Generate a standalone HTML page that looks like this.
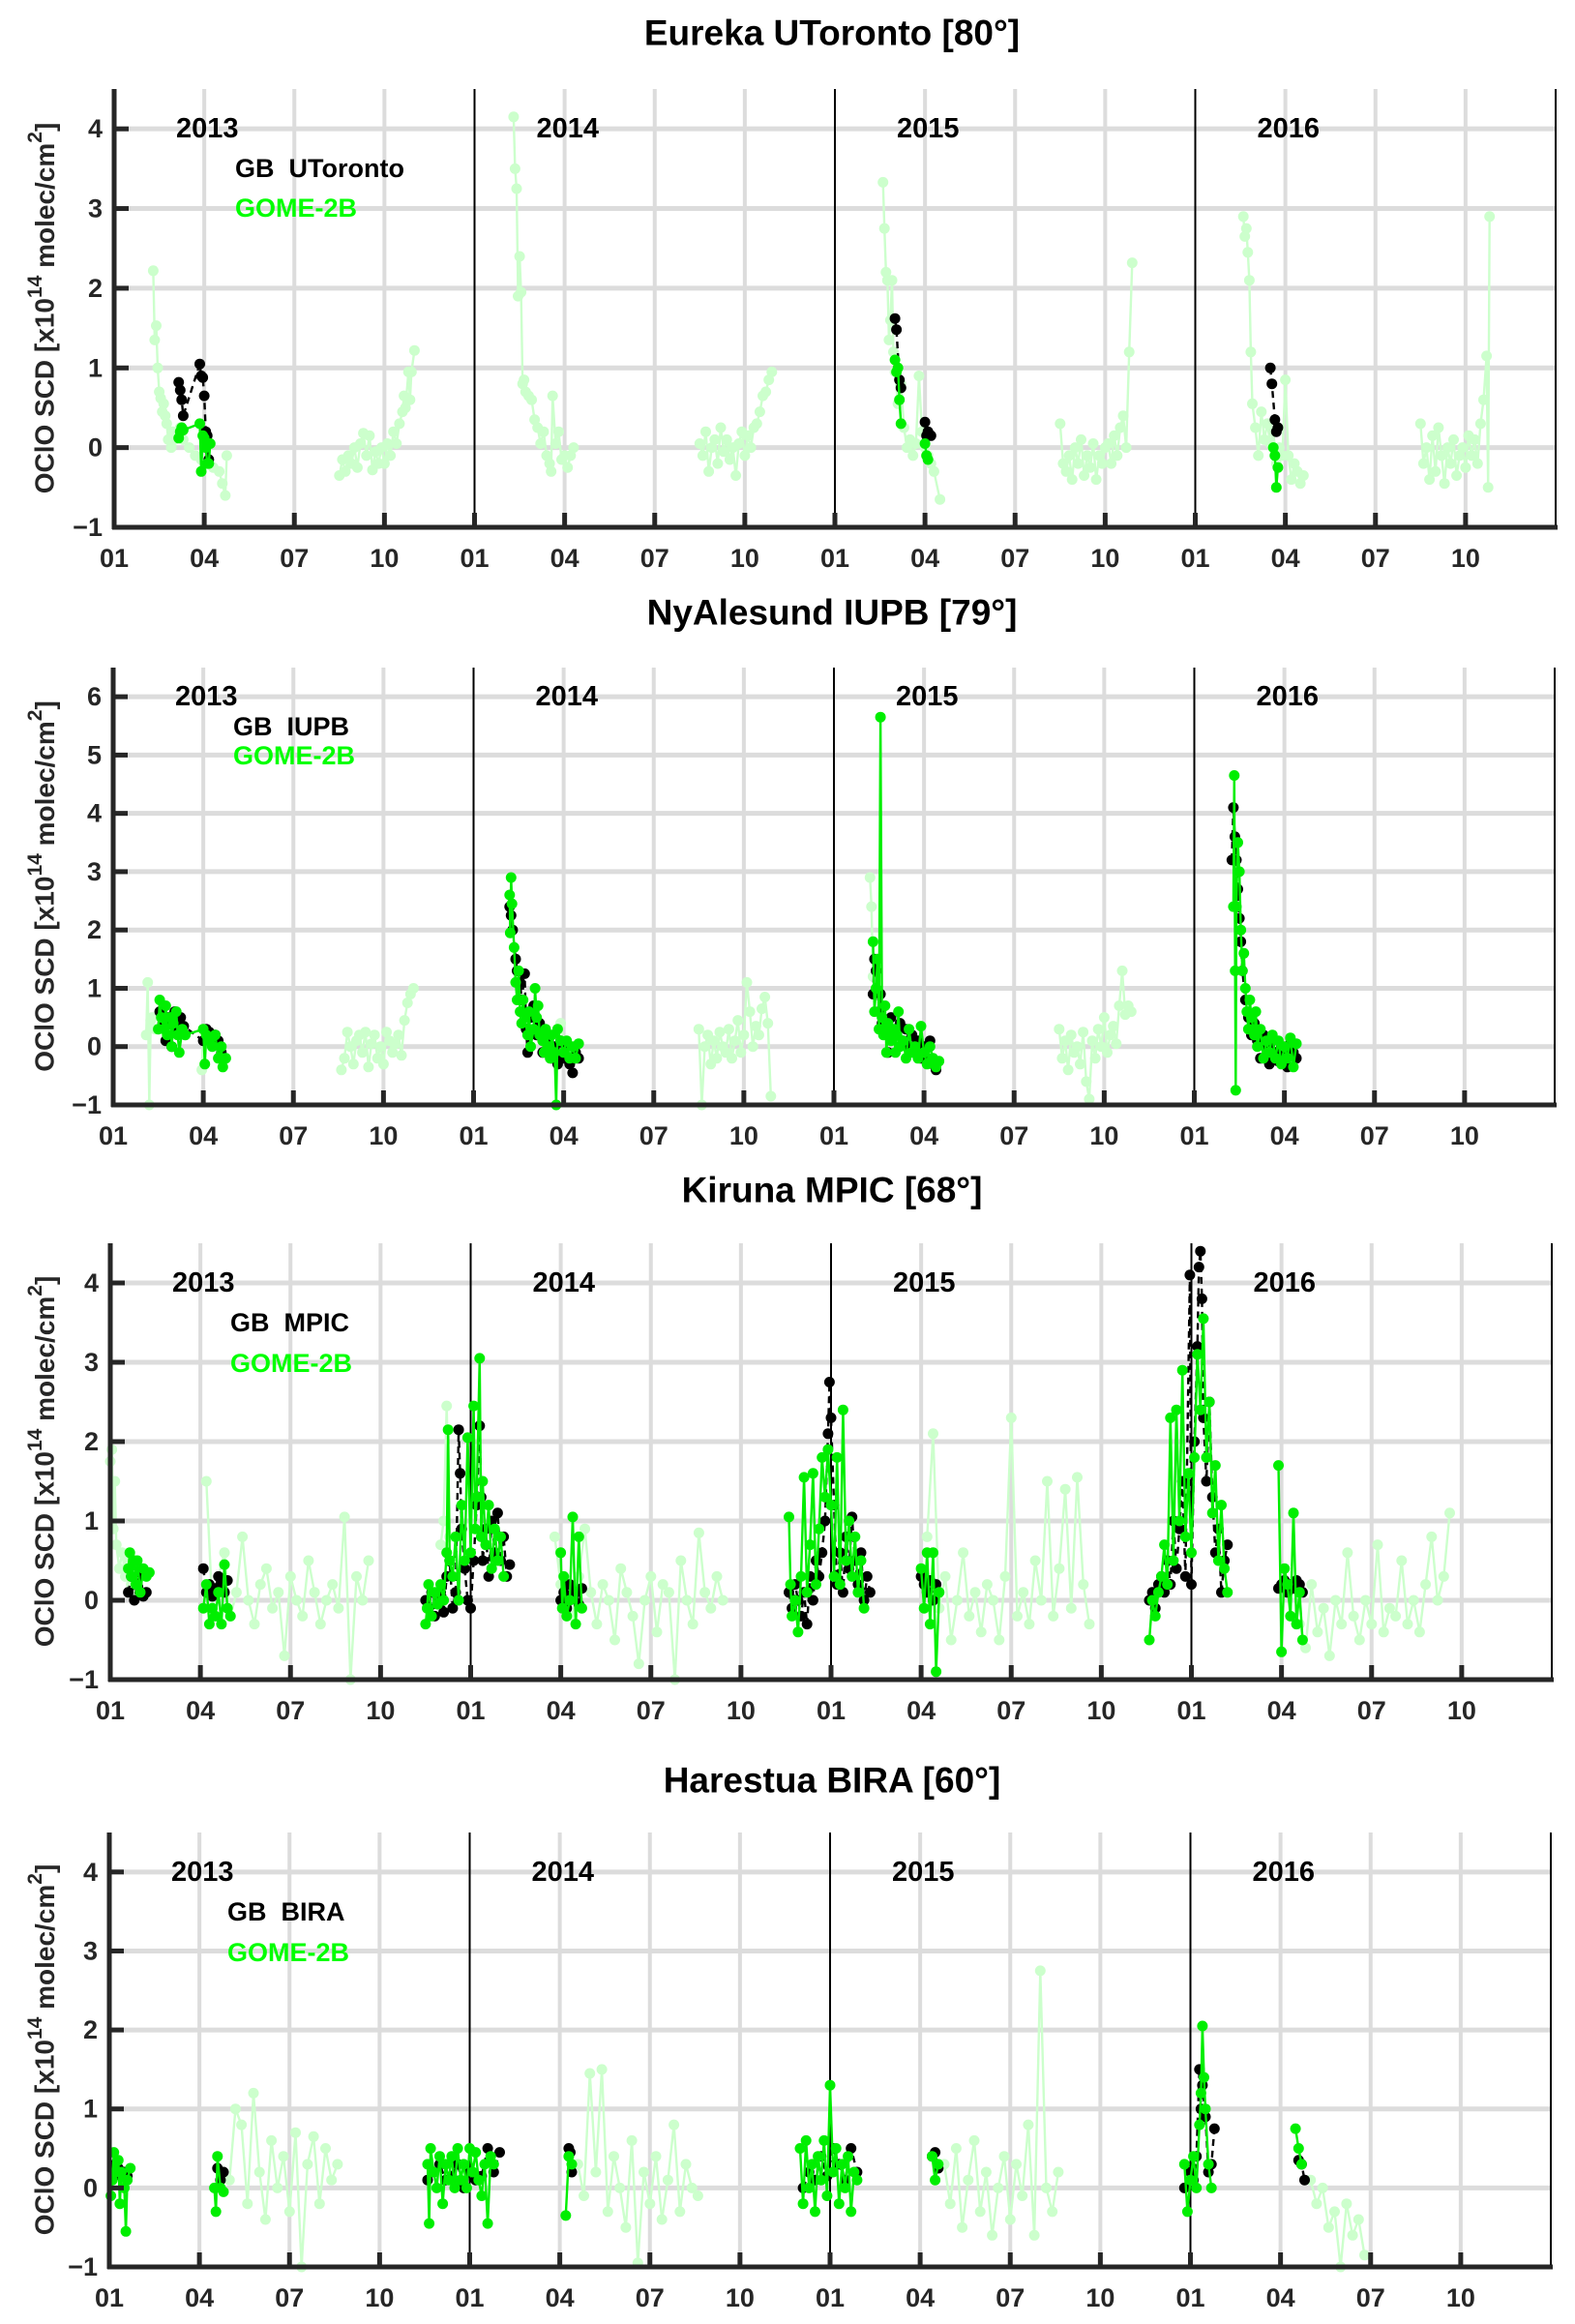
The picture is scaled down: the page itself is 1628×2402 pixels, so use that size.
<!DOCTYPE html>
<html><head><meta charset="utf-8">
<style>
html,body{margin:0;padding:0;background:#fff;}
svg{display:block;font-family:"Liberation Sans",sans-serif;}
</style></head>
<body>
<svg id="fig" width="1628" height="2402" viewBox="0 0 1628 2402" xmlns="http://www.w3.org/2000/svg"></svg>
<script>
// ---------- DATA (months since 2013-01; values in 1e14 molec/cm2) ----------
const monthTickLabels = ["01","04","07","10"];
const yearLabels = ["2013","2014","2015","2016"];
const ticksA = [-1,0,1,2,3,4];
const ticksB = [-1,0,1,2,3,4,5,6];

// Eureka
const euPaleX = [1.3,1.35,1.4,1.45,1.5,1.55,1.6,1.65,1.7,1.75,1.8,1.9,1.95,2.0,2.1,2.2,2.3,2.5,2.7,2.9,3.1,3.3,3.5,3.6,3.7,3.75,
7.5,7.6,7.7,7.8,7.9,8.0,8.1,8.2,8.3,8.4,8.5,8.6,8.7,8.8,8.9,9.0,9.1,9.2,9.3,9.4,9.5,9.6,9.65,9.7,9.8,9.85,9.9,10.0,
13.3,13.35,13.4,13.45,13.5,13.55,13.6,13.65,13.7,13.8,13.9,14.0,14.1,14.2,14.3,14.4,14.5,14.55,14.6,14.7,14.8,14.9,15.0,15.1,15.2,15.3,
19.5,19.6,19.7,19.8,19.9,20.0,20.1,20.2,20.3,20.4,20.5,20.6,20.7,20.8,20.9,21.0,21.1,21.2,21.3,21.4,21.5,21.6,21.7,21.8,21.9,
25.6,25.65,25.7,25.75,25.8,25.85,25.9,25.95,26.0,26.1,26.2,26.3,26.4,26.5,26.6,26.7,26.8,26.9,27.0,27.1,27.2,27.3,27.5,
31.5,31.6,31.7,31.8,31.9,32.0,32.1,32.2,32.3,32.4,32.5,32.6,32.7,32.8,32.9,33.0,33.1,33.2,33.3,33.4,33.5,33.6,33.7,33.8,33.9,
37.6,37.65,37.7,37.75,37.8,37.85,37.9,38.0,38.1,38.2,38.3,38.4,38.5,38.6,38.7,38.8,38.9,39.0,39.1,39.2,39.3,39.4,39.5,39.6,
43.5,43.6,43.7,43.8,43.9,44.0,44.1,44.2,44.3,44.4,44.5,44.6,44.7,44.8,44.9,45.0,45.1,45.2,45.3,45.4,45.5,45.6,45.7,45.75,45.8];
const euPaleY = [2.22,1.35,1.53,1.0,0.7,0.62,0.45,0.55,0.4,0.3,0.1,0.0,0.2,0.1,0.15,0.25,0.1,0.0,-0.1,-0.15,-0.2,-0.25,-0.3,-0.45,-0.6,-0.1,
-0.35,-0.15,-0.3,-0.1,-0.2,0.0,-0.25,0.05,0.18,-0.1,0.15,-0.28,-0.05,-0.2,0.0,-0.2,0.05,-0.1,0.2,0.05,0.3,0.45,0.65,0.5,0.95,0.6,0.95,1.22,
4.15,3.5,3.25,1.9,2.4,1.95,0.8,0.85,0.7,0.65,0.6,0.35,0.25,0.05,0.2,-0.1,-0.2,-0.3,0.65,0.05,0.2,-0.15,-0.1,-0.25,-0.1,0.0,
0.05,-0.1,0.2,-0.3,0.0,0.1,-0.2,0.25,-0.05,0.1,-0.15,0.0,-0.35,0.05,0.2,-0.1,0.15,0.0,0.25,0.3,0.45,0.65,0.7,0.85,0.95,
3.33,2.75,2.2,2.1,1.35,1.6,2.1,1.2,0.95,0.55,0.8,0.25,0.0,0.1,-0.1,0.05,0.9,0.2,0.0,-0.1,-0.2,-0.3,-0.65,
0.3,-0.2,-0.3,-0.1,-0.4,0.0,-0.2,0.1,-0.35,-0.1,-0.25,0.05,-0.4,-0.1,-0.2,0.0,0.05,-0.2,0.15,-0.1,0.25,0.4,0.0,1.2,2.32,
2.9,2.65,2.75,2.45,2.1,1.2,0.55,0.25,-0.1,0.45,0.1,0.3,0.05,0.2,-0.2,0.0,-0.1,0.85,-0.1,-0.4,-0.2,-0.3,-0.45,-0.35,
0.3,-0.2,0.0,-0.4,0.15,-0.3,0.25,-0.1,-0.45,0.0,-0.2,0.1,-0.35,-0.1,0.0,-0.25,0.15,-0.1,0.1,-0.2,0.3,0.6,1.15,-0.5,2.9];
const euGbX = [2.15,2.2,2.25,2.3,2.85,2.9,2.95,3.0,3.05,3.1,3.15,26.0,26.05,26.15,26.2,27.0,27.05,27.1,27.2,38.5,38.55,38.65,38.7,38.75];
const euGbY = [0.82,0.72,0.6,0.4,1.05,0.9,0.88,0.65,0.2,0.15,-0.15,1.62,1.48,0.85,0.75,0.32,0.15,0.2,0.15,1.0,0.8,0.35,0.2,0.25];
const euGoX = [2.15,2.2,2.25,2.3,2.85,2.9,2.95,3.0,3.05,3.1,3.15,3.2,26.0,26.05,26.1,26.15,26.2,27.0,27.05,27.1,38.6,38.65,38.7,38.75];
const euGoY = [0.12,0.2,0.25,0.22,0.3,-0.3,0.15,0.12,0.0,-0.2,-0.2,0.05,1.1,0.95,1.0,0.6,0.3,0.05,-0.1,-0.15,0.0,-0.1,-0.5,-0.25];

// NyAlesund
const nyPaleX = [1.1,1.15,1.2,1.25,1.3,1.4,2.95,3.0,
7.6,7.7,7.8,7.9,8.0,8.1,8.2,8.3,8.4,8.5,8.6,8.7,8.8,8.9,9.0,9.1,9.2,9.3,9.4,9.5,9.6,9.7,9.8,9.9,10.0,
13.4,13.5,14.9,15.0,
19.5,19.6,19.7,19.8,19.9,20.0,20.1,20.2,20.3,20.4,20.5,20.6,20.7,20.8,20.9,21.0,21.1,21.2,21.3,21.4,21.5,21.6,21.7,21.8,21.9,
25.2,25.25,25.3,
31.5,31.6,31.7,31.8,31.9,32.0,32.1,32.2,32.3,32.4,32.5,32.6,32.7,32.8,32.9,33.0,33.1,33.2,33.3,33.4,33.5,33.6,33.7,33.8,33.9];
const nyPaleY = [0.2,1.1,-1.0,0.45,0.5,0.3,-0.4,0.3,
-0.4,-0.2,0.25,0.0,-0.3,0.1,0.2,-0.1,0.25,-0.35,0.05,0.2,-0.2,0.0,-0.3,0.25,0.1,-0.1,0.05,0.2,-0.15,0.45,0.75,0.9,1.0,
1.5,1.2,0.4,0.1,
0.3,-1.0,0.0,0.2,-0.3,0.1,-0.2,0.25,0.0,-0.1,0.3,-0.2,0.1,0.45,-0.1,0.2,1.1,0.6,0.0,0.35,0.2,0.65,0.85,0.4,-0.85,
2.9,2.4,1.2,
0.3,-0.2,0.1,-0.4,0.2,-0.1,0.0,-0.3,0.25,-0.6,-0.9,0.1,-0.2,0.3,0.0,0.5,-0.1,0.2,0.35,0.05,0.7,1.3,0.55,0.7,0.6];
const nyGbX = [1.55,1.65,1.75,1.85,1.95,2.05,2.15,2.25,2.35,3.0,3.1,3.2,3.3,3.4,3.5,3.6,3.7,
13.2,13.25,13.3,13.4,13.45,13.55,13.6,13.7,13.75,13.8,13.9,14.0,14.1,14.2,14.3,14.4,14.5,14.6,14.7,14.8,14.9,15.0,15.1,15.2,15.3,15.4,15.5,
25.3,25.35,25.4,25.5,25.55,25.6,25.7,25.8,25.9,26.0,26.1,26.2,26.3,26.4,26.5,26.6,26.7,26.8,26.9,27.0,27.1,27.2,27.3,27.4,
37.25,37.3,37.35,37.4,37.45,37.5,37.55,37.6,37.7,37.8,37.9,38.0,38.1,38.2,38.3,38.4,38.5,38.6,38.7,38.8,38.9,39.0,39.1,39.2,39.3,39.4];
const nyGbY = [0.6,0.4,0.1,0.5,0.0,0.6,0.3,0.5,0.35,0.1,0.3,0.25,0.15,0.2,0.1,-0.1,-0.2,
2.4,2.25,2.0,1.5,1.3,1.1,0.8,1.25,0.3,-0.1,0.5,0.7,0.2,0.4,-0.1,0.2,0.1,-0.2,0.0,-0.3,0.1,-0.2,0.0,-0.3,-0.45,-0.1,-0.2,
0.9,1.5,1.3,0.6,0.9,0.4,0.3,-0.1,0.5,0.2,0.3,0.4,0.1,0.3,0.0,0.2,-0.1,0.1,-0.2,0.0,-0.2,0.1,-0.3,-0.4,
3.2,4.1,3.6,3.2,2.7,2.2,1.8,1.3,0.8,0.5,0.2,0.4,0.1,-0.2,0.2,0.0,-0.3,0.1,-0.1,-0.25,0.0,-0.15,-0.35,0.05,-0.1,-0.2];
const nyGoX = [1.5,1.55,1.6,1.7,1.75,1.8,1.9,1.95,2.0,2.1,2.15,2.2,2.3,2.4,3.0,3.05,3.1,3.2,3.3,3.4,3.5,3.6,3.65,3.75,
13.2,13.22,13.25,13.28,13.35,13.4,13.45,13.5,13.55,13.6,13.65,13.7,13.8,13.85,13.9,14.0,14.05,14.1,14.15,14.2,14.3,14.35,14.4,14.5,14.55,14.6,14.7,14.75,14.8,14.9,15.0,15.1,15.2,15.3,15.4,15.5,
25.3,25.35,25.4,25.45,25.5,25.55,25.6,25.65,25.7,25.75,25.8,25.85,25.9,26.0,26.05,26.1,26.15,26.2,26.3,26.4,26.5,26.6,26.7,26.8,26.9,27.0,27.1,27.2,27.3,27.4,27.5,
37.3,37.33,37.36,37.38,37.4,37.45,37.5,37.55,37.6,37.65,37.7,37.75,37.8,37.85,37.9,38.0,38.05,38.1,38.2,38.3,38.4,38.5,38.6,38.7,38.8,38.9,39.0,39.1,39.2,39.3,39.4];
const nyGoY = [0.3,0.8,0.5,0.3,0.7,0.2,0.5,0.0,0.4,0.6,0.2,-0.1,0.3,0.2,0.3,-0.3,0.2,0.1,0.0,0.2,-0.2,0.0,-0.35,-0.2,
2.6,1.95,2.9,2.45,1.7,1.1,0.8,1.3,0.6,0.4,0.8,0.5,0.2,0.6,0.0,0.3,1.0,0.5,0.7,0.2,0.1,-0.1,0.3,0.0,-0.2,0.2,-0.1,-1.0,0.3,0.1,-0.1,0.1,-0.2,0.0,-0.2,0.05,
1.8,0.6,1.0,1.5,0.3,5.65,0.5,0.2,0.7,-0.1,0.4,0.2,0.1,0.3,-0.1,0.2,0.6,0.0,0.1,-0.2,0.3,-0.1,0.0,-0.2,0.35,-0.1,-0.3,0.0,-0.2,-0.35,-0.25,
2.4,4.65,1.3,-0.75,2.4,3.5,3.0,2.0,1.3,1.6,1.0,0.6,0.3,0.8,0.5,0.2,0.6,0.0,0.3,-0.2,0.1,-0.1,0.2,-0.2,0.1,-0.3,0.0,-0.2,0.15,-0.35,0.05];

// Kiruna
const kiPaleX = [0.0,0.05,0.1,0.15,0.2,0.3,0.4,0.5,0.6,0.7,0.8,0.9,1.0,
3.2,3.4,3.6,3.8,4.0,4.2,4.4,4.6,4.8,5.0,5.2,5.4,5.6,5.8,6.0,6.2,6.4,6.6,6.8,7.0,7.2,7.4,7.6,7.8,8.0,8.2,8.4,8.6,
11.0,11.1,11.2,11.3,
14.8,15.0,15.2,15.4,15.6,15.8,16.0,16.2,16.4,16.6,16.8,17.0,17.2,17.4,17.6,17.8,18.0,18.2,18.4,18.6,18.8,19.0,19.2,19.4,19.6,19.8,20.0,20.2,20.4,
27.2,27.4,27.6,27.8,28.0,28.2,28.4,28.6,28.8,29.0,29.2,29.4,29.6,29.8,30.0,30.2,30.4,30.6,30.8,31.0,31.2,31.4,31.6,31.8,32.0,32.2,32.4,32.6,
39.6,39.8,40.0,40.2,40.4,40.6,40.8,41.0,41.2,41.4,41.6,41.8,42.0,42.2,42.4,42.6,42.8,43.0,43.2,43.4,43.6,43.8,44.0,44.2,44.4,44.6];
const kiPaleY = [1.75,1.9,0.9,1.5,0.7,0.4,0.6,0.3,0.5,0.2,0.35,0.1,0.3,
1.5,-0.1,0.3,0.6,-0.2,0.1,0.8,0.0,-0.3,0.2,0.4,-0.1,0.1,-0.7,0.3,0.0,-0.2,0.5,0.1,-0.3,0.0,0.2,-0.1,1.05,-1.0,0.3,0.0,0.5,
0.7,1.0,2.45,0.8,
0.8,0.2,0.0,-0.2,0.3,0.9,0.1,-0.3,0.2,0.0,-0.5,0.4,0.1,-0.2,-0.8,0.0,0.3,-0.4,0.2,0.1,-1.0,0.5,0.0,-0.3,0.85,0.1,-0.1,0.3,0.0,
0.8,2.1,-0.1,0.3,-0.5,0.0,0.6,-0.2,0.1,-0.4,0.2,0.0,-0.5,0.3,2.3,-0.2,0.1,-0.3,0.5,0.0,1.5,-0.2,0.4,1.4,-0.1,1.55,0.2,-0.3,
-0.3,-0.6,0.2,-0.4,-0.1,-0.7,0.0,-0.3,0.6,-0.2,-0.5,0.0,-0.3,0.7,-0.4,-0.1,-0.2,0.5,-0.3,0.0,-0.4,0.2,0.8,0.0,0.3,1.1];
const kiGbX = [0.6,0.7,0.8,0.9,1.0,1.1,1.2,
3.1,3.2,3.3,3.4,3.5,3.6,3.7,3.8,3.9,
10.5,10.6,10.7,10.8,10.9,11.0,11.1,11.2,11.3,11.4,11.5,11.6,11.65,11.7,11.8,11.9,12.0,12.1,12.2,12.3,12.35,12.4,12.5,12.6,12.7,12.8,12.9,13.0,13.1,13.2,13.3,
15.0,15.1,15.2,15.3,15.4,15.5,15.6,15.7,
22.6,22.7,22.8,22.9,23.0,23.1,23.2,23.3,23.4,23.5,23.6,23.7,23.8,23.9,23.95,24.0,24.1,24.2,24.3,24.4,24.5,24.6,24.7,24.8,24.9,25.0,25.1,25.2,25.3,
27.0,27.1,27.2,27.3,27.4,27.5,
34.6,34.7,34.8,34.9,35.0,35.1,35.2,35.3,35.4,35.5,35.6,35.7,35.8,35.95,36.0,36.1,36.2,36.25,36.3,36.35,36.4,36.5,36.6,36.7,36.8,36.9,37.0,37.1,37.2,
38.9,39.0,39.1,39.2,39.3,39.4,39.5,39.6,39.7];
const kiGbY = [0.1,0.3,0.0,0.2,0.35,0.05,0.1,
0.4,0.1,0.2,0.05,0.15,0.3,0.2,0.1,0.25,
0.0,-0.1,0.1,-0.2,0.0,0.1,-0.15,0.3,0.5,-0.1,0.1,2.15,1.6,0.9,0.4,0.0,-0.1,0.5,1.2,2.2,1.3,0.5,0.9,0.3,1.0,0.6,1.1,0.5,0.8,0.3,0.45,
0.0,0.1,-0.1,0.2,0.05,0.1,-0.05,0.15,
0.1,-0.1,0.2,0.0,-0.2,0.1,-0.3,0.3,0.0,0.5,0.3,0.6,1.0,2.1,2.75,2.3,1.2,0.2,0.6,0.1,0.8,0.4,1.05,0.5,0.2,0.6,0.0,0.3,0.1,
0.3,0.2,0.1,0.25,0.0,0.2,
0.0,0.1,-0.1,0.2,0.3,0.1,0.5,0.2,1.0,0.4,0.9,1.5,0.3,4.1,0.2,2.0,3.2,4.2,4.4,3.8,2.3,1.5,2.5,1.3,0.6,0.9,0.1,0.5,0.7,
0.15,0.2,0.25,0.1,0.2,0.15,0.25,0.2,0.1];
const kiGoX = [0.6,0.65,0.7,0.8,0.85,0.9,1.0,1.1,1.2,1.3,
3.1,3.2,3.3,3.4,3.5,3.6,3.7,3.8,3.9,4.0,
10.5,10.55,10.6,10.7,10.8,10.9,11.0,11.1,11.2,11.25,11.3,11.4,11.5,11.6,11.7,11.8,11.9,12.0,12.1,12.15,12.2,12.3,12.35,12.4,12.5,12.6,12.7,12.8,12.9,13.0,13.1,
15.0,15.05,15.1,15.2,15.3,15.4,15.5,15.6,15.7,
22.6,22.65,22.7,22.8,22.9,23.0,23.1,23.2,23.3,23.4,23.5,23.6,23.7,23.8,23.9,24.0,24.1,24.2,24.3,24.4,24.5,24.6,24.7,24.8,24.9,25.0,25.1,
27.0,27.1,27.2,27.3,27.4,27.5,27.6,
34.6,34.7,34.8,34.9,35.0,35.1,35.2,35.3,35.4,35.5,35.6,35.7,35.8,35.9,36.0,36.1,36.2,36.3,36.4,36.5,36.6,36.7,36.8,36.9,37.0,37.1,37.2,
38.9,39.0,39.1,39.2,39.3,39.4,39.5,39.6,39.7];
const kiGoY = [0.4,0.6,0.3,0.5,0.2,0.5,0.1,0.4,0.3,0.35,
-0.1,0.2,-0.3,-0.1,-0.2,0.1,-0.3,0.45,-0.1,-0.2,
-0.3,-0.1,0.2,-0.2,0.1,-0.05,0.2,0.0,0.6,2.15,0.5,0.3,0.8,0.0,1.2,0.5,2.05,0.6,2.45,0.9,1.3,3.05,0.8,1.5,0.7,1.2,0.4,0.9,0.5,0.8,0.3,
0.6,-0.1,0.3,-0.2,0.0,1.05,-0.3,0.8,-0.1,
1.05,0.2,-0.2,0.0,-0.4,0.3,1.55,0.1,0.7,1.6,0.2,0.9,1.8,1.3,1.9,1.2,0.3,1.8,0.2,2.4,0.5,1.0,0.3,0.8,0.1,0.5,-0.1,
0.4,-0.1,0.6,-0.3,0.6,-0.9,0.1,
-0.5,0.0,-0.2,0.1,0.3,0.7,0.2,2.3,0.5,2.4,1.0,2.9,0.8,1.6,0.6,1.8,3.1,2.4,3.55,1.8,2.5,1.1,1.7,0.5,1.2,0.4,0.1,
1.7,-0.65,0.4,0.2,-0.2,1.1,-0.3,0.1,-0.5];

// Harestua
const haPaleX = [4.0,4.2,4.4,4.6,4.8,5.0,5.2,5.4,5.6,5.8,6.0,6.2,6.4,6.6,6.8,7.0,7.2,7.4,7.6,
15.6,15.8,16.0,16.2,16.4,16.6,16.8,17.0,17.2,17.4,17.6,17.8,18.0,18.2,18.4,18.6,18.8,19.0,19.2,19.4,19.6,
27.8,28.0,28.2,28.4,28.6,28.8,29.0,29.2,29.4,29.6,29.8,30.0,30.2,30.4,30.6,30.8,31.0,31.2,31.4,31.6,
40.0,40.2,40.4,40.6,40.8,41.0,41.2,41.4,41.6,41.8];
const haPaleY = [0.1,1.0,0.8,-0.2,1.2,0.2,-0.4,0.6,0.0,0.4,-0.3,0.7,-1.0,0.3,0.65,-0.2,0.5,0.1,0.3,
0.3,-0.1,1.45,0.2,1.5,-0.3,0.4,0.0,-0.5,0.6,-0.95,0.2,-0.2,0.4,-0.4,0.1,0.8,-0.3,0.3,0.0,-0.1,
0.3,-0.2,0.5,-0.5,0.1,0.6,-0.3,0.2,-0.6,0.0,0.4,-0.4,0.3,-0.1,0.8,-0.6,2.75,0.0,-0.3,0.2,
0.1,-0.2,0.0,-0.5,-0.3,-1.0,-0.2,-0.6,-0.4,-0.85];
const haGbX = [0.1,0.2,0.3,0.4,0.5,0.6,3.6,3.7,3.8,
10.6,10.8,11.0,11.2,11.4,11.6,11.8,12.0,12.2,12.4,12.6,12.8,13.0,
15.3,15.35,15.4,
23.1,23.3,23.5,23.7,23.9,24.1,24.3,24.5,24.7,24.9,
27.4,27.5,27.6,
35.8,36.0,36.1,36.2,36.3,36.35,36.4,36.5,36.6,36.7,36.8,
39.6,39.7,39.8];
const haGbY = [0.2,0.3,0.25,0.15,0.2,0.15,0.25,0.1,0.2,
0.1,0.2,0.3,0.1,0.15,0.3,0.0,0.2,0.1,0.15,0.5,0.2,0.45,
0.5,0.45,0.2,
0.0,0.2,0.1,0.4,0.15,0.5,0.3,0.1,0.5,0.2,
0.4,0.45,0.25,
0.0,0.2,0.1,0.4,1.5,1.0,1.3,0.9,0.2,0.3,0.75,
0.35,0.3,0.1];
const haGoX = [0.05,0.1,0.15,0.2,0.3,0.35,0.4,0.5,0.55,0.6,0.7,3.5,3.55,3.6,3.7,3.8,
10.6,10.65,10.7,10.8,10.9,11.0,11.1,11.2,11.3,11.4,11.5,11.6,11.7,11.8,11.9,12.0,12.1,12.2,12.3,12.4,12.5,12.6,12.7,12.8,
15.2,15.3,15.4,
23.0,23.1,23.2,23.3,23.4,23.5,23.6,23.7,23.8,23.9,24.0,24.1,24.2,24.3,24.4,24.5,24.6,24.7,24.8,24.9,
27.4,27.5,27.6,
35.8,35.9,36.0,36.1,36.2,36.3,36.35,36.4,36.45,36.5,36.6,36.7,
39.5,39.6,39.7];
const haGoY = [-0.1,0.1,0.45,0.2,0.35,-0.2,0.2,0.0,-0.55,0.1,0.25,0.0,-0.3,0.4,0.0,-0.05,
0.3,-0.45,0.5,0.2,0.0,0.4,-0.2,0.3,0.1,0.4,0.0,0.5,0.1,0.3,0.0,0.5,0.2,0.45,0.1,-0.1,0.3,-0.45,0.4,0.3,
-0.35,0.4,0.3,
0.5,-0.2,0.6,0.0,0.3,-0.3,0.4,0.1,0.6,-0.1,1.3,0.2,0.5,-0.2,0.3,0.0,0.4,-0.3,0.2,0.1,
0.4,0.1,0.3,
0.3,-0.3,0.1,0.4,0.0,0.8,1.2,2.05,1.4,1.0,0.3,0.0,
0.75,0.5,0.3];

// ---------- DRAWING ----------
const NS = "http://www.w3.org/2000/svg";
const svg = document.getElementById('fig');
function mk(tag, attrs, parent){
  const e = document.createElementNS(NS, tag);
  for (const k in attrs) e.setAttribute(k, attrs[k]);
  (parent||svg).appendChild(e);
  return e;
}
const panels = [
 {key:'eureka', title:'Eureka UToronto [80°]', gb:'GB  UToronto', left:118, right:1608, top:92, bottom:545, ymin:-1, ymax:4.5, ticks:ticksA, titleY:34, legX:243, legDy:[41,82],
  pX:euPaleX,pY:euPaleY,bX:euGbX,bY:euGbY,gX:euGoX,gY:euGoY},
 {key:'nyalesund', title:'NyAlesund IUPB [79°]', gb:'GB  IUPB', left:117, right:1607, top:690, bottom:1142, ymin:-1, ymax:6.5, ticks:ticksB, titleY:633, legX:241, legDy:[31,61],
  pX:nyPaleX,pY:nyPaleY,bX:nyGbX,bY:nyGbY,gX:nyGoX,gY:nyGoY},
 {key:'kiruna', title:'Kiruna MPIC [68°]', gb:'GB  MPIC', left:114, right:1604, top:1285, bottom:1736, ymin:-1, ymax:4.5, ticks:ticksA, titleY:1230, legX:238, legDy:[41,83],
  pX:kiPaleX,pY:kiPaleY,bX:kiGbX,bY:kiGbY,gX:kiGoX,gY:kiGoY},
 {key:'harestua', title:'Harestua BIRA [60°]', gb:'GB  BIRA', left:113, right:1603, top:1894, bottom:2343, ymin:-1, ymax:4.5, ticks:ticksA, titleY:1840, legX:235, legDy:[41,83],
  pX:haPaleX,pY:haPaleY,bX:haGbX,bY:haGbY,gX:haGoX,gY:haGoY}
];

panels.forEach(p=>{
  const g = mk('g', {});
  
  
  const xS = m => p.left + m*(p.right-p.left)/48;
  const yS = v => p.bottom - (v-p.ymin)*(p.bottom-p.top)/(p.ymax-p.ymin);

  const t = mk('text', {x:860, y:p.titleY, 'text-anchor':'middle', 'dominant-baseline':'central', 'font-size':37, 'font-weight':'bold', fill:'#000'}, g);
  t.textContent = p.title;
  
  

  const grid = mk('g', {}, g);
  
  
  p.ticks.forEach(v=>{ if (v> p.ymin) mk('line',{x1:p.left,x2:p.right,y1:yS(v),y2:yS(v),stroke:'#dcdcdc','stroke-width':5},grid); });
  for (let q=1;q<16;q++){ if (q%4) mk('line',{x1:xS(q*3),x2:xS(q*3),y1:p.top,y2:p.bottom,stroke:'#dcdcdc','stroke-width':4},grid); }
  for (let y=1;y<=4;y++){ mk('line',{x1:xS(y*12),x2:xS(y*12),y1:p.top,y2:p.bottom,stroke:'#000','stroke-width':2},grid); }

  function series(xs, ys, color, dash, name, r){
    const sg = mk('g', {}, g);
    
    
    const n = Math.min(xs.length, ys.length);
    let d = '';
    for (let i=0;i<n;i++){
      const cmd = (i>0 && xs[i]-xs[i-1] < 0.8) ? 'L' : 'M';
      d += cmd + xS(xs[i]).toFixed(1) + ',' + yS(ys[i]).toFixed(1) + ' ';
    }
    const path = mk('path', {d:d, fill:'none', stroke:color, 'stroke-width':2.4}, sg);
    if (dash) path.setAttribute('stroke-dasharray', '7,5');
    for (let i=0;i<n;i++){
      const c = mk('circle', {cx:xS(xs[i]).toFixed(1), cy:yS(ys[i]).toFixed(1), r:r, fill:color}, sg);
      
      
    }
  }
  series(p.pX, p.pY, '#ccffcc', false, 'gome2b-all', 5.5);
  series(p.bX, p.bY, '#000000', true, 'gb-series', 5.5);
  series(p.gX, p.gY, '#00ee00', false, 'gome2b-coincident', 5.5);

  const ax = mk('g', {}, g);
  
  
  mk('line',{x1:p.left,x2:p.left,y1:p.top,y2:p.bottom+2,stroke:'#262626','stroke-width':5},ax);
  mk('line',{x1:p.left-2,x2:p.right+2,y1:p.bottom,y2:p.bottom,stroke:'#262626','stroke-width':5},ax);
  p.ticks.forEach(v=>{
    mk('line',{x1:p.left,x2:p.left+15,y1:yS(v),y2:yS(v),stroke:'#262626','stroke-width':5},ax);
    const tl = mk('text',{x:p.left-12,y:yS(v),'text-anchor':'end','dominant-baseline':'central','font-size':27,'font-weight':'bold',fill:'#262626'},ax);
    tl.textContent = String(v).replace('-','\u2212');
    
    
  });
  for (let q=0;q<16;q++){
    const x = xS(q*3);
    mk('line',{x1:x,x2:x,y1:p.bottom,y2:p.bottom-15,stroke:'#262626','stroke-width':5},ax);
    const tl = mk('text',{x:x,y:p.bottom+32,'text-anchor':'middle','dominant-baseline':'central','font-size':27,'font-weight':'bold',fill:'#262626'},ax);
    tl.textContent = monthTickLabels[q%4];
    
    
  }
  const yc = (p.top+p.bottom)/2;
  const yl = mk('text',{x:46,y:yc,'text-anchor':'middle','dominant-baseline':'central','font-size':28,'font-weight':'bold',fill:'#262626',transform:'rotate(-90 46 '+yc+')'},ax);
  
  
  yl.innerHTML = 'OClO SCD [x10<tspan dy="-10" font-size="21">14</tspan><tspan dy="10"> molec/cm</tspan><tspan dy="-10" font-size="21">2</tspan><tspan dy="10">]</tspan>';

  const topTick = p.ticks[p.ticks.length-1];
  yearLabels.forEach((lab,i)=>{
    const yt = mk('text',{x:xS(12*i+3.1),y:yS(topTick),'text-anchor':'middle','dominant-baseline':'central','font-size':29,'font-weight':'bold',fill:'#000'},g);
    yt.textContent = lab;
    
    
  });
  const l1 = mk('text',{x:p.legX,y:yS(topTick)+p.legDy[0],'dominant-baseline':'central','font-size':27,'font-weight':'bold',fill:'#000'},g);
  l1.textContent = p.gb;
  l1.setAttribute('style','white-space:pre');
  
  
  const l2 = mk('text',{x:p.legX,y:yS(topTick)+p.legDy[1],'dominant-baseline':'central','font-size':27,'font-weight':'bold',fill:'#00ff00'},g);
  l2.textContent = 'GOME-2B';
  
  
});
</script>
</body></html>
